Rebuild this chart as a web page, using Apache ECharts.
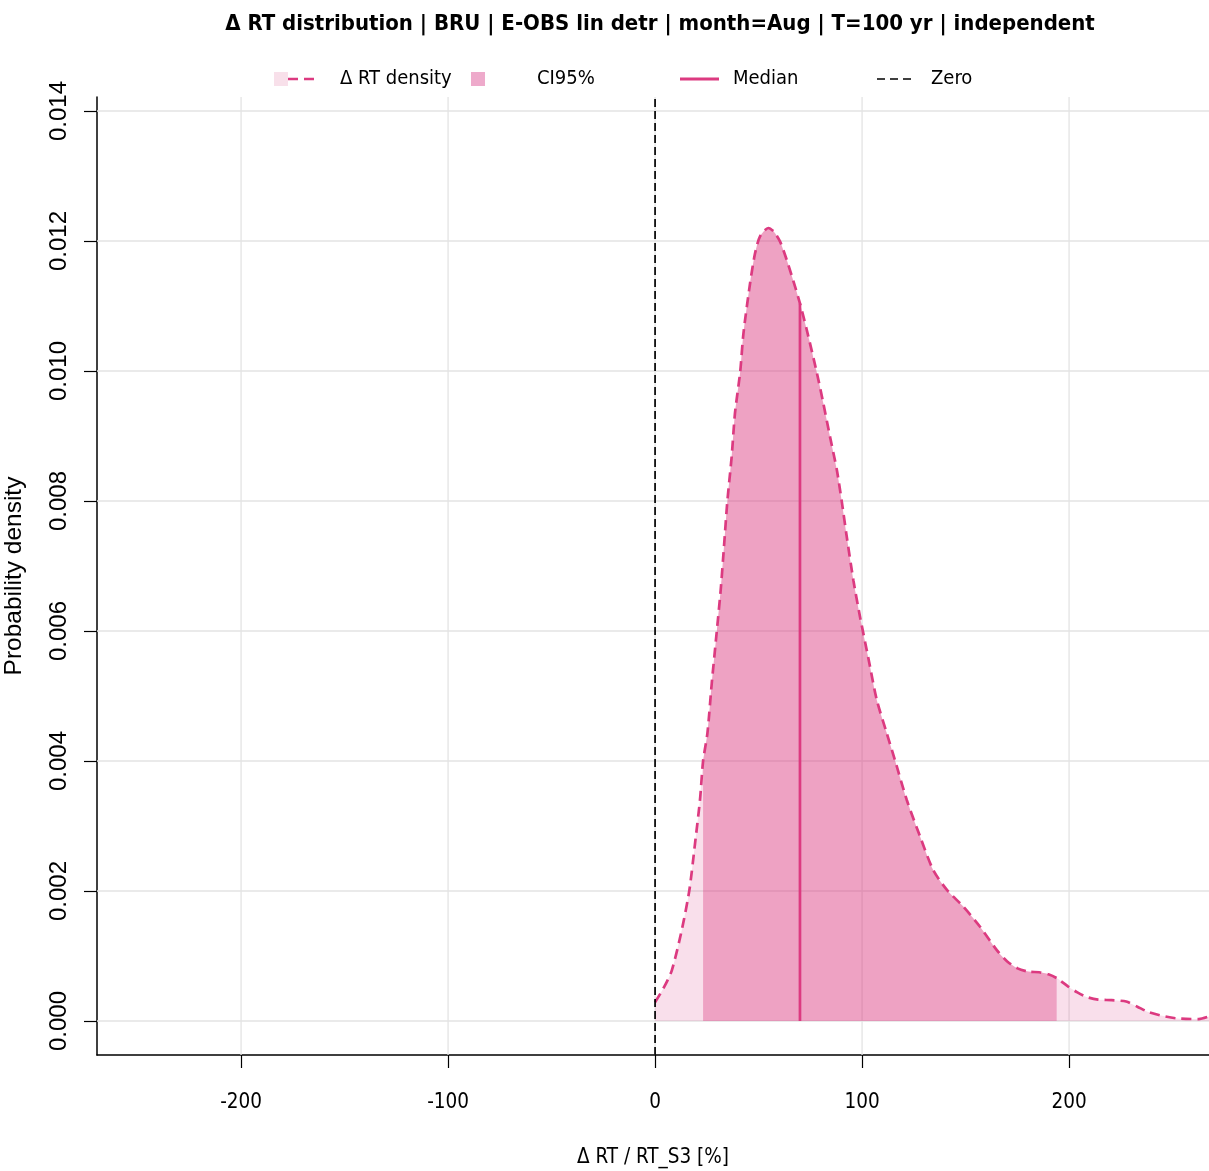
<!DOCTYPE html>
<html>
<head>
<meta charset="utf-8">
<script src="https://cdn.jsdelivr.net/npm/echarts@6/dist/echarts.min.js"></script>
<style>
  html, body { margin: 0; padding: 0; background: #fff; }
  #chart { width: 1209px; height: 1171px; }
</style>
</head>
<body>
<div id="chart"></div>
<script>
// density curve (x in %, y = probability density)
const densityX = [0, 4, 8.1, 12.9, 16.6, 19.3, 21.7, 23.2, 25.3, 27.4, 29.8, 31.7, 33.3, 34.9, 37, 38.6,
  41.1, 42.7, 45.9, 48.3, 50.7, 54.7, 57.5, 60.4, 63.6, 67.6, 70, 73.3, 78.1, 81.3, 84.5, 87.8, 90.2,
  92.6, 95.8, 99, 103, 107.1, 111.9, 116, 121.6, 128, 134.4, 140.9, 148.9, 157, 165.1, 170, 175.1,
  180.3, 185.6, 190, 194, 199.6, 204, 208.4, 214, 220.6, 227.6, 233, 238.2, 245, 252.2, 262.7, 267.6];
const densityY = [0.00029, 0.0005, 0.00078, 0.0014, 0.00202, 0.00273, 0.0034, 0.004, 0.00443, 0.0052,
  0.00599, 0.00663, 0.0073, 0.00799, 0.00868, 0.00935, 0.00998, 0.01058, 0.01135, 0.01181, 0.01207,
  0.0122, 0.01214, 0.01199, 0.01171, 0.0113, 0.01104, 0.01063, 0.00998, 0.0095, 0.00899, 0.00848,
  0.00799, 0.00745, 0.00678, 0.00622, 0.00559, 0.00494, 0.00443, 0.004, 0.0034, 0.00284, 0.00232,
  0.00202, 0.00176, 0.00145, 0.00109, 0.00092, 0.00081, 0.00076, 0.00075, 0.00072, 0.00066, 0.00053,
  0.00044, 0.00037, 0.00033, 0.00032, 0.0003, 0.00022, 0.00014, 0.00008, 0.00004, 0.00003, 0.00007];

const ciBounds = [23.2, 194];
const medianX = 70;
const medianY = 0.01104;

const xTicks = [-200, -100, 0, 100, 200];
const yTicks = [0, 0.002, 0.004, 0.006, 0.008, 0.01, 0.012, 0.014];
const xRange = [-269.6, 267.6];
const yRange = [-0.000523, 0.014215];

const pink = "#DC3A80";
const narrow = "'DejaVu Sans Condensed', 'Liberation Sans', sans-serif";
const plain = "'Liberation Sans', Arial, sans-serif";

const densityData = densityX.map((x, i) => [x, densityY[i]]);
const ciData = densityData.filter(p => p[0] >= ciBounds[0] && p[0] <= ciBounds[1]);

// grid lines as plain line series through the tick values
const gridStyle = { color: "#E3E3E3", width: 1.3 };
const gridSeries = xTicks.map(v => ({
  type: "line", silent: true, symbol: "none", z: 0,
  data: [[v, yRange[0]], [v, yRange[1]]], lineStyle: gridStyle,
})).concat(yTicks.map(v => ({
  type: "line", silent: true, symbol: "none", z: 0,
  data: [[xRange[0], v], [xRange[1], v]], lineStyle: gridStyle,
})));

const chart = echarts.init(document.getElementById("chart"), null, { renderer: "canvas" });

const option = {
  animation: false,
  backgroundColor: "#fff",
  title: {
    text: "Δ RT distribution | BRU | E-OBS lin detr | month=Aug | T=100 yr | independent",
    left: 655,
    top: 8,
    textAlign: "center",
    textStyle: { fontFamily: narrow, fontWeight: "bold", fontSize: 22, color: "#000" },
  },
  grid: { left: 97, right: 0, top: 97, bottom: 116, outerBoundsMode: "none", containLabel: false },
  xAxis: {
    type: "value",
    min: xRange[0],
    max: xRange[1],
    minInterval: 100,
    maxInterval: 100,
    name: "Δ RT / RT_S3 [%]",
    nameLocation: "middle",
    nameGap: 92,
    nameTextStyle: { fontFamily: narrow, fontSize: 20.5, color: "#000" },
    axisLine: { onZero: false, lineStyle: { color: "#000", width: 1.5 } },
    axisTick: { customValues: xTicks, length: 13, lineStyle: { color: "#000", width: 1.2 } },
    axisLabel: { customValues: xTicks, margin: 37, fontFamily: narrow, fontSize: 20.5, color: "#000" },
    splitLine: { show: false },
  },
  yAxis: {
    type: "value",
    min: yRange[0],
    max: yRange[1],
    minInterval: 0.002,
    maxInterval: 0.002,
    name: "Probability density",
    nameLocation: "middle",
    nameGap: 70,
    nameRotate: 90,
    nameTextStyle: { fontFamily: plain, fontSize: 24.5, color: "#000" },
    axisLine: { onZero: false, lineStyle: { color: "#000", width: 1.5 } },
    axisTick: { customValues: yTicks, length: 13, lineStyle: { color: "#000", width: 1.2 } },
    axisLabel: {
      customValues: yTicks,
      rotate: 90,
      margin: 26,
      fontFamily: plain,
      fontSize: 24,
      color: "#000",
      formatter: v => v.toFixed(3),
    },
    splitLine: { show: false },
  },
  series: gridSeries.concat([
    {
      name: "density fill",
      type: "line",
      data: densityData,
      smooth: 0.25,
      symbol: "none",
      z: 1,
      lineStyle: { width: 0 },
      areaStyle: { color: "rgba(220,58,128,0.16)", opacity: 1 },
    },
    {
      name: "CI95%",
      type: "line",
      data: ciData,
      smooth: 0.25,
      symbol: "none",
      z: 2,
      lineStyle: { width: 0 },
      areaStyle: { color: "rgba(220,58,128,0.37)", opacity: 1 },
    },
    {
      name: "Δ RT density",
      type: "line",
      data: densityData,
      smooth: 0.25,
      symbol: "none",
      z: 3,
      lineStyle: { color: pink, width: 2.7, type: [10, 6] },
    },
    {
      name: "Median",
      type: "line",
      data: [[medianX, 0], [medianX, medianY]],
      symbol: "none",
      z: 4,
      lineStyle: { color: pink, width: 2.7 },
    },
    {
      name: "Zero",
      type: "line",
      data: [[0, yRange[0]], [0, yRange[1]]],
      symbol: "none",
      z: 5,
      lineStyle: { color: "#000", width: 1.7, type: [8, 4] },
    },
  ]),
  graphic: [
    // hand-placed legend row, like the R legend
    { type: "rect", shape: { x: 274, y: 72, width: 14, height: 14 }, style: { fill: "#F8E0EA" } },
    { type: "line", shape: { x1: 288, y1: 79, x2: 320, y2: 79 }, style: { stroke: pink, lineWidth: 2.7, lineDash: [10, 6] } },
    { type: "text", x: 340, y: 79, style: { text: "Δ RT density", font: "20px " + narrow, fill: "#000", verticalAlign: "middle" } },
    { type: "rect", shape: { x: 471, y: 72, width: 14, height: 14 }, style: { fill: "#EEAACB" } },
    { type: "text", x: 537, y: 79, style: { text: "CI95%", font: "20px " + narrow, fill: "#000", verticalAlign: "middle" } },
    { type: "line", shape: { x1: 680, y1: 79, x2: 719, y2: 79 }, style: { stroke: pink, lineWidth: 3 } },
    { type: "text", x: 733, y: 79, style: { text: "Median", font: "20px " + narrow, fill: "#000", verticalAlign: "middle" } },
    { type: "line", shape: { x1: 877, y1: 79, x2: 915, y2: 79 }, style: { stroke: "#000", lineWidth: 1.7, lineDash: [8, 5] } },
    { type: "text", x: 931, y: 79, style: { text: "Zero", font: "20px " + narrow, fill: "#000", verticalAlign: "middle" } },
  ],
};

chart.setOption(option);
window.addEventListener("resize", chart.resize);
</script>
</body>
</html>
